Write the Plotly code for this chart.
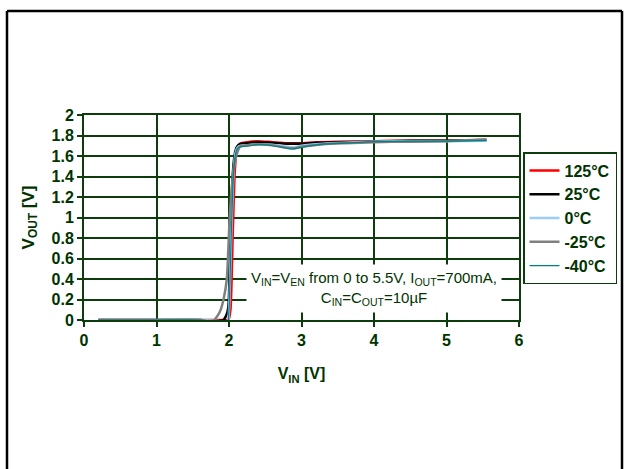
import plotly.graph_objects as go

# ---- data ----
series_names = ["125°C", "25°C", "0°C", "-25°C", "-40°C"]
series_colors = ["#ff0000", "#000000", "#99ccff", "#808080", "#008080"]
series_widths = [2.5, 2.5, 2.5, 2.5, 1.2]

x_red = [0.2, 1.0, 1.6, 1.9, 1.99, 2.02, 2.05, 2.08, 2.11, 2.15, 2.25, 2.4, 2.6, 2.8, 3.0, 3.2, 3.5, 4.0, 4.5, 5.0, 5.55]
y_red = [0.0, 0.0, 0.0, 0.0, 0.0, 0.1, 0.8, 1.45, 1.68, 1.72, 1.735, 1.745, 1.735, 1.725, 1.725, 1.735, 1.74, 1.745, 1.75, 1.75, 1.755]

x_black = [0.2, 1.0, 1.6, 1.85, 1.92, 1.96, 1.99, 2.02, 2.05, 2.08, 2.11, 2.15, 2.25, 2.4, 2.6, 2.8, 3.0, 3.2, 3.5, 4.0, 4.5, 5.0, 5.55]
y_black = [0.0, 0.0, 0.0, -0.01, 0.0, 0.04, 0.12, 0.8, 1.4, 1.62, 1.69, 1.715, 1.725, 1.735, 1.73, 1.72, 1.72, 1.73, 1.735, 1.74, 1.748, 1.75, 1.755]

x_blue = [0.2, 1.0, 1.6, 1.85, 1.92, 1.98, 2.0, 2.03, 2.06, 2.09, 2.12, 2.16, 2.25, 2.4, 2.6, 2.8, 2.9, 3.0, 3.3, 3.6, 4.0, 4.5, 5.0, 5.55]
y_blue = [0.0, 0.0, 0.0, -0.01, -0.03, -0.03, 0.1, 0.8, 1.4, 1.63, 1.685, 1.7, 1.705, 1.715, 1.71, 1.69, 1.685, 1.7, 1.72, 1.73, 1.74, 1.745, 1.745, 1.75]

x_gray = [0.2, 1.0, 1.6, 1.7, 1.76, 1.82, 1.88, 1.93, 1.97, 2.01, 2.06, 2.1, 2.15, 2.2, 2.25, 2.4, 2.6, 2.8, 2.9, 3.0, 3.3, 3.6, 4.0, 4.5, 5.0, 5.55]
y_gray = [0.0, 0.0, 0.0, -0.015, -0.02, 0.02, 0.09, 0.22, 0.4, 1.0, 1.45, 1.6, 1.69, 1.7, 1.705, 1.715, 1.705, 1.68, 1.675, 1.69, 1.715, 1.725, 1.735, 1.74, 1.745, 1.76]

x_teal = [0.2, 1.0, 1.6, 1.85, 1.92, 1.98, 2.0, 2.03, 2.06, 2.09, 2.12, 2.16, 2.25, 2.4, 2.6, 2.8, 2.9, 3.0, 3.3, 3.6, 4.0, 4.5, 5.0, 5.55]
y_teal = [0.0, 0.0, 0.0, -0.01, -0.03, -0.03, 0.1, 0.8, 1.4, 1.62, 1.68, 1.69, 1.695, 1.71, 1.70, 1.675, 1.67, 1.685, 1.715, 1.725, 1.74, 1.745, 1.745, 1.75]

xs = [x_red, x_black, x_blue, x_gray, x_teal]
ys = [y_red, y_black, y_blue, y_gray, y_teal]

x_ticks = [0, 1, 2, 3, 4, 5, 6]
y_ticks = [0, 0.2, 0.4, 0.6, 0.8, 1, 1.2, 1.4, 1.6, 1.8, 2]

note_text = ("V<sub>IN</sub>=V<sub>EN</sub> from 0 to 5.5V, I<sub>OUT</sub>=700mA,<br>"
             "C<sub>IN</sub>=C<sub>OUT</sub>=10µF")

TXT = "#003300"
GRID = "#0d3d0d"
FONT = "Liberation Sans, Arial, sans-serif"

fig = go.Figure()
for name, col, w, x, y in zip(series_names, series_colors, series_widths, xs, ys):
    fig.add_trace(go.Scatter(x=x, y=y, name=name, mode="lines",
                             line=dict(color=col, width=w, shape="spline", smoothing=0.6)))

# plot area: left 84, right 519, top 115, bottom 320 (px)
L, R, T, B = 84, 519, 115, 320
W, H = 625, 469
pw, ph = R - L, B - T

def px(xp):
    return (xp - L) / pw

def py(yp):
    return (B - yp) / ph

axis_common = dict(showgrid=True, gridcolor=GRID, gridwidth=1.5,
                   showline=True, linecolor=GRID, linewidth=2, mirror=True,
                   ticks="outside", ticklen=5, tickcolor=GRID, tickwidth=1.5,
                   zeroline=False,
                   tickfont=dict(family=FONT, size=16, color=TXT, weight="bold"))

fig.update_layout(
    width=W, height=H,
    margin=dict(l=L, r=W - R, t=T, b=H - B, autoexpand=False),
    paper_bgcolor="white", plot_bgcolor="white",
    font=dict(family=FONT, color=TXT),
    xaxis=dict(range=[0, 6], tickvals=x_ticks, **axis_common,
               title=dict(text="<b>V<sub>IN</sub> [V]</b>", font=dict(family=FONT, size=16, color=TXT), standoff=20)),
    yaxis=dict(range=[0, 2], tickvals=y_ticks, ticktext=[str(v) for v in y_ticks], **axis_common,
               title=dict(text="<b>V<sub>OUT</sub> [V]</b>", font=dict(family=FONT, size=17, color=TXT), standoff=13)),
    legend=dict(x=px(523), y=py(152), xanchor="left", yanchor="top",
                bordercolor=GRID, borderwidth=1.5, bgcolor="white",
                font=dict(family=FONT, size=16, color=TXT, weight="bold"),
                tracegroupgap=0),
    showlegend=True,
)

fig.add_annotation(x=4.0, y=0.31, xref="x", yref="y", text=note_text, showarrow=False,
                   font=dict(family=FONT, size=15, color=TXT), bgcolor="white",
                   borderpad=4, align="center")

# outer frame (left, top, right) of the page
frame = dict(type="line", xref="paper", yref="paper", line=dict(color="black", width=2.5), layer="above")
fig.add_shape(x0=px(7), x1=px(7), y0=py(11), y1=py(480), **frame)
fig.add_shape(x0=px(7), x1=px(622), y0=py(11), y1=py(11), **frame)
fig.add_shape(x0=px(622), x1=px(622), y0=py(11), y1=py(480), **frame)

fig.write_html("out.html", config={"displayModeBar": False},
               post_script="document.body.style.margin='0px';document.body.style.overflow='hidden';")
